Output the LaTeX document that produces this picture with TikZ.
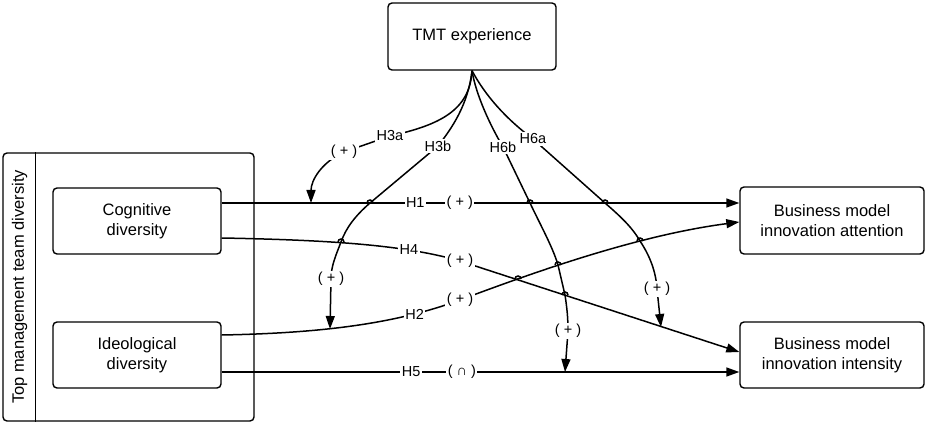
\documentclass[tikz,border=0pt]{standalone}
\usepackage{fontspec}
\setmainfont{Liberation Sans}
\usetikzlibrary{arrows.meta}

\begin{document}
\begin{tikzpicture}[x=1pt,y=-1pt,
  font=\fontsize{16.5}{20}\selectfont,
  box/.style={draw,line width=1.4pt,rounded corners=4pt,align=center,inner sep=0pt},
  link/.style={line width=1.5pt,-{Triangle[length=13pt,width=9pt]}},
  lbl/.style={fill=white,inner sep=1.5pt,font=\fontsize{14.5}{16}\selectfont},
  hop/.style={line width=1.5pt}
]
\useasboundingbox (0,0) rectangle (926,422);

% boxes
\node[box,minimum width=251pt,minimum height=268pt] (tmd) at (128.5,287) {};
\draw[line width=1.4pt] ([xshift=33pt]tmd.north west) -- ([xshift=33pt]tmd.south west);
\node[rotate=90] (tmdlbl) at (19.5,287) {Top management team diversity};
\node[box,minimum width=168pt,minimum height=66pt] (cog) at (137,221) {Cognitive\\diversity};
\node[box,minimum width=168pt,minimum height=66pt] (ideo) at (137,355) {Ideological\\diversity};
\node[box,minimum width=168pt,minimum height=67pt] (tmt) at (472,36.5) {TMT experience};
\node[box,minimum width=184pt,minimum height=67pt] (bma) at (832,220.5) {Business model\\innovation attention};
\node[box,minimum width=184pt,minimum height=66pt] (bmi) at (832,355) {Business model\\innovation intensity};

% crossings and arrow ends
\coordinate (h3bx1) at (370,203);
\coordinate (h3bx2) at (341,242);
\coordinate (h6bx1) at (530,203);
\coordinate (h6bx2) at (558,265);
\coordinate (h6bx3) at (565,295);
\coordinate (h6ax1) at (605,203);
\coordinate (h6ax2) at (640,241);
\coordinate (h24x) at (518,279);
\coordinate (h3aend) at (311,203);
\coordinate (h3bend) at (330,329);
\coordinate (h6bend) at (565,372);
\coordinate (h6aend) at (661,327);

% main effects
\draw[link] ([yshift=18pt]cog.east) -- node[lbl,pos=0.374]{H1} node[lbl,pos=0.46]{( + )} ([yshift=17.5pt]bma.west);
\draw[link] ([yshift=-17pt]cog.east) .. controls (330,240) and (405,245) .. (460,261)
  node[lbl,pos=0.72]{H4} node[lbl]{( + )} -- ([yshift=3pt]bmi.west);
\draw[link] ([yshift=20pt]ideo.east) .. controls (330,333) and (400,322) .. (460,300)
  node[lbl,pos=0.76]{H2} node[lbl]{( + )} .. controls (540,270) and (640,235) .. ([yshift=-1.5pt]bma.west);
\draw[link] ([yshift=-17pt]ideo.east) -- node[lbl,pos=0.366]{H5} node[lbl,pos=0.464]{( ∩ )} ([yshift=-17pt]bmi.west);

% moderation
\draw[link] (tmt.south) .. controls (470,110) and (440,125) .. (390,136) node[lbl]{H3a}
  -- (344,152) node[lbl]{( + )} .. controls (322,162) and (311,180) .. (h3aend);
\draw[link] (tmt.south) .. controls (468,105) and (452,128) .. (438,146) node[lbl]{H3b}
  -- (h3bx1) .. controls (355,216) and (346,228) .. (h3bx2)
  .. controls (336,255) and (331,266) .. (331,279) node[lbl]{( + )} -- (h3bend);
\draw[link] (tmt.south) .. controls (476,95) and (490,125) .. (503,147) node[lbl]{H6b}
  -- (h6bx1) .. controls (542,228) and (553,248) .. (h6bx2) -- (h6bx3)
  .. controls (567,308) and (568,318) .. (568,331) node[lbl]{( + )} -- (h6bend);
\draw[link] (tmt.south) .. controls (485,95) and (505,118) .. (533,139) node[lbl]{H6a}
  -- (h6ax1) .. controls (620,216) and (632,227) .. (h6ax2)
  .. controls (650,256) and (656,272) .. (657,289) node[lbl]{( + )} -- (h6aend);

% line hops
\foreach \c in {h3bx1,h3bx2,h6bx1,h6bx2,h6bx3,h6ax1,h6ax2,h24x}
  \draw[hop] ([xshift=-3pt]\c) arc[start angle=180,end angle=0,radius=3pt];
\end{tikzpicture}
\end{document}
